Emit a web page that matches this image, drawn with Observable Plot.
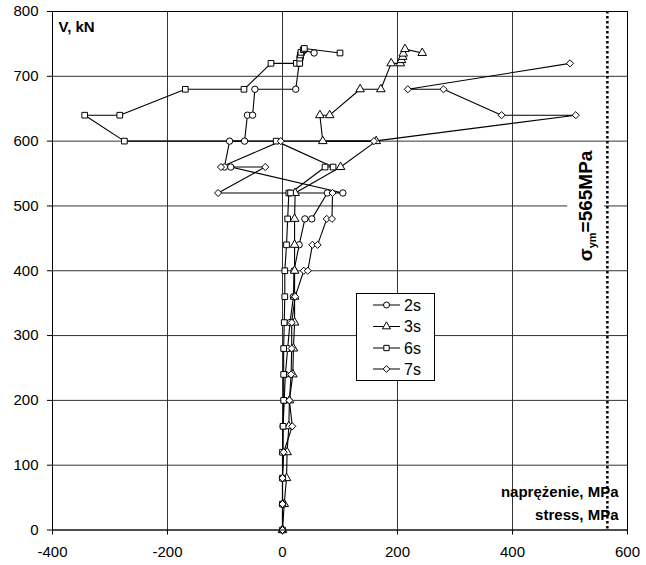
<!DOCTYPE html>
<html><head><meta charset="utf-8">
<script src="https://cdn.jsdelivr.net/npm/d3@7"></script>
<script src="https://cdn.jsdelivr.net/npm/@observablehq/plot@0.6"></script>
<style>
body{margin:0;background:#fff;font-family:"Liberation Sans",Arial,sans-serif;}
#wrap{position:relative;width:646px;height:565px;}
#legend{position:absolute;left:356px;top:293px;width:79px;height:88px;box-sizing:border-box;border:1px solid #000;background:#fff;}
</style></head><body><div id="wrap"></div>
<script>
// tick values
const xTicks = [-400, -200, 0, 200, 400, 600];
const yTicks = [0, 100, 200, 300, 400, 500, 600, 700, 800];

// series names
const seriesNames = ["2s", "3s", "6s", "7s"];

// 2s (circles): load V [kN] and stress [MPa]
const load2s   = [0,40,80,120,160,200,240,280,320,360,400,440,480,480,520,520,560,560,600,600,640,640,680,680,720,728,735,740,736];
const stress2s = [0,0,0,1,1,3,5,9,13,19,20,29,39,51,78,105,-90,-101,-92,-66,-61,-52,-48,23,29,31,33,37,55];

// 3s (triangles)
const load3s   = [0,40,80,120,160,200,240,280,320,360,400,440,480,520,560,600,600,640,640,680,680,720,720,725,730,735,742,736];
const stress3s = [0,3,7,8,11,12,18,19,21,21,21,21,21,22,101,163,70,65,82,135,171,189,205,207,209,210,213,243];

// 6s (squares)
const load6s   = [0,40,80,120,160,200,240,280,320,360,400,440,480,520,520,560,560,600,600,640,640,680,680,720,720,720,728,733,737,741,743,736];
const stress6s = [0,0,0,0,1,2,2,2,3,4,4,7,9,11,14,74,88,-11,-275,-344,-283,-169,-67,-20,24,30,30,31,32,36,38,100];

// 7s (diamonds)
const load7s   = [0,40,80,120,160,200,240,280,320,360,400,400,440,440,480,480,520,520,560,560,600,600,640,640,680,680,720];
const stress7s = [0,0,0,2,17,12,15,16,16,22,37,44,52,61,77,86,87,-112,-30,-107,-3,159,510,381,280,218,500];

// annotation values
const yieldStress = [565];
const yieldLabel = ["σym=565MPa"];
const yieldLabelPos = [{stress: 527, V: 500}];
const yieldLabelBox = [{x1: 496, x2: 560, y1: 415, y2: 588}];
const yTitle = ["V, kN"];
const xTitle1 = ["naprężenie, MPa"];
const xTitle2 = ["stress, MPa"];

const seriesSymbols = ["circle", "triangle", "square", "diamond2"];

const rows = [];
[[seriesNames[0], load2s, stress2s], [seriesNames[1], load3s, stress3s],
 [seriesNames[2], load6s, stress6s], [seriesNames[3], load7s, stress7s]]
  .forEach(([name, V, S]) => V.forEach((v, i) => rows.push({series: name, V: v, stress: S[i]})));

const FONT = '"Liberation Sans", Arial, sans-serif';

const chart = Plot.plot({
  width: 646, height: 565,
  marginLeft: 52, marginRight: 19, marginTop: 11, marginBottom: 35.5,
  style: {fontFamily: FONT, fontSize: "15px", color: "#000", background: "#fff"},
  x: {domain: [-400, 600], ticks: xTicks, tickSize: 5, tickPadding: 11, tickFormat: d => String(d), label: null},
  y: {domain: [0, 800], ticks: yTicks, tickSize: 5, tickPadding: 9, tickFormat: d => String(d), label: null},
  symbol: {domain: seriesNames, range: seriesSymbols},
  marks: [
    Plot.ruleX(xTicks, {stroke: "#333", strokeWidth: 1}),
    Plot.ruleY(yTicks, {stroke: "#333", strokeWidth: 1}),
    Plot.rect(yieldLabelBox, {x1: "x1", x2: "x2", y1: "y1", y2: "y2", fill: "white"}),
    Plot.ruleX(yieldStress, {stroke: "#000", strokeWidth: 2.5, strokeDasharray: "2.5,2.5"}),
    Plot.line(rows, {x: "stress", y: "V", z: "series", stroke: "#000", strokeWidth: 1.1}),
    Plot.dot(rows, {x: "stress", y: "V", symbol: "series", r: 3.2, fill: "white", stroke: "#000", strokeWidth: 1}),
    Plot.text(yieldLabelPos, {x: "stress", y: "V", text: () => yieldLabel[0], rotate: -90, fontSize: 19, fontWeight: "bold", textAnchor: "middle", lineAnchor: "middle", fill: "#000"}),
    Plot.text(yTitle, {frameAnchor: "top-left", dx: 6, dy: 16, textAnchor: "start", lineAnchor: "middle", fontSize: 15, fontWeight: "bold", fill: "#000"}),
    Plot.text(xTitle1, {frameAnchor: "bottom-right", dx: -9, dy: -38, textAnchor: "end", lineAnchor: "middle", fontSize: 15, fontWeight: "bold", fill: "#000"}),
    Plot.text(xTitle2, {frameAnchor: "bottom-right", dx: -9, dy: -15, textAnchor: "end", lineAnchor: "middle", fontSize: 15, fontWeight: "bold", fill: "#000"}),
    Plot.frame({stroke: "#000", strokeWidth: 1})
  ]
});

const wrap = document.getElementById("wrap");
wrap.appendChild(chart);

// subscript in the yield label
const NS = "http://www.w3.org/2000/svg";
chart.querySelectorAll("text").forEach(t => {
  if (t.textContent === yieldLabel[0]) {
    while (t.firstChild) t.removeChild(t.firstChild);
    const a = document.createElementNS(NS, "tspan"); a.textContent = "σ";
    const b = document.createElementNS(NS, "tspan"); b.textContent = "ym";
    b.setAttribute("font-size", "11"); b.setAttribute("dy", "4");
    const c = document.createElementNS(NS, "tspan"); c.textContent = "=565MPa";
    c.setAttribute("dy", "-4");
    t.appendChild(a); t.appendChild(b); t.appendChild(c);
  }
});

// legend box inside the plot area
const legend = document.createElement("div");
legend.id = "legend";
wrap.appendChild(legend);
const lsvg = d3.select(legend).append("svg").attr("width", 77).attr("height", 86)
  .style("position", "absolute").style("left", 0).style("top", 0);
const symTypes = {circle: d3.symbolCircle, triangle: d3.symbolTriangle, square: d3.symbolSquare, diamond2: d3.symbolDiamond2};
const rowY = [11, 32.5, 54, 75];
seriesNames.forEach((name, i) => {
  const g = lsvg.append("g").attr("transform", `translate(0,${rowY[i]})`);
  g.append("line").attr("x1", 16).attr("x2", 43).attr("y1", 0).attr("y2", 0).attr("stroke", "#000");
  g.append("path").attr("d", d3.symbol(symTypes[seriesSymbols[i]], Math.PI * 9)())
    .attr("transform", "translate(29.5,0)").attr("fill", "#fff").attr("stroke", "#000");
  g.append("text").attr("x", 47).attr("y", 0).attr("dy", "0.36em").text(name)
    .attr("font-family", FONT).attr("font-size", 16).attr("fill", "#000");
});
</script>
</body></html>
